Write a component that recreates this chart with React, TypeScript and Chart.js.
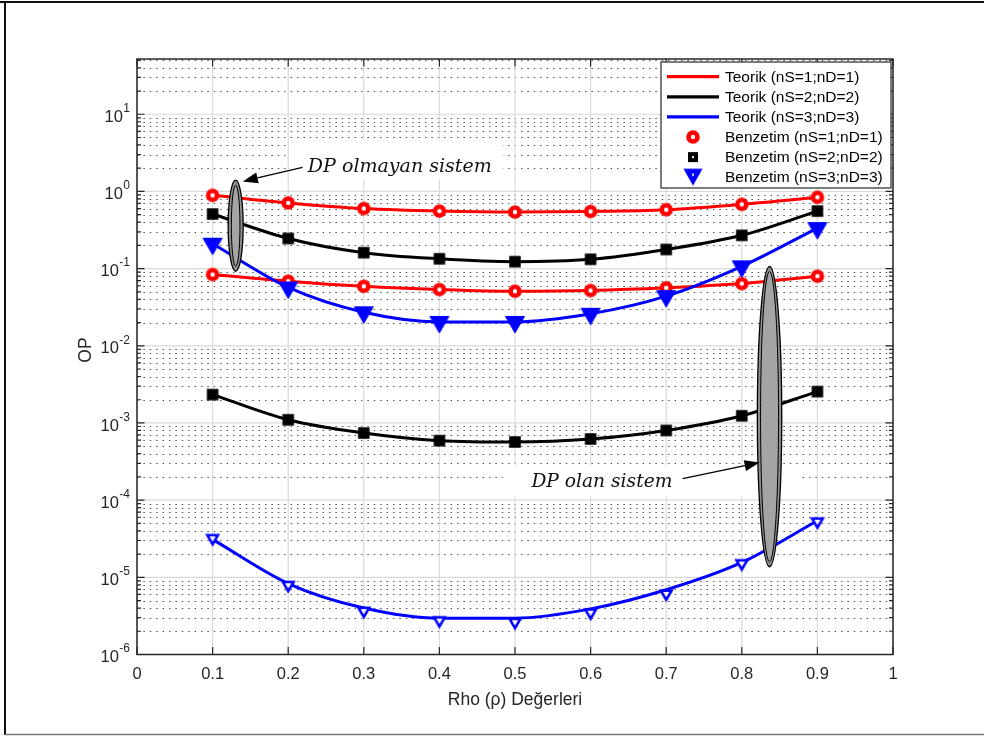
import { useEffect, useRef } from 'react';
import { Chart, registerables } from 'chart.js';

Chart.register(...registerables);

// Rho (ρ) values on the x axis
const rho = [0.1, 0.2, 0.3, 0.4, 0.5, 0.6, 0.7, 0.8, 0.9];

// DP olmayan sistem – theory curves
const thNoDp11 = [0.89, 0.71, 0.6, 0.556, 0.54, 0.55, 0.58, 0.68, 0.84];
const thNoDp22 = [0.51, 0.246, 0.161, 0.134, 0.123, 0.132, 0.177, 0.27, 0.556];
const thNoDp33 = [0.21, 0.057, 0.0272, 0.0204, 0.0204, 0.026, 0.044, 0.107, 0.335];
// DP olan sistem – theory curves
const thDp11 = [0.0838, 0.0687, 0.059, 0.0536, 0.0509, 0.052, 0.0563, 0.064, 0.0797];
const thDp22 = [0.00233, 0.0011, 0.00074, 0.00059, 0.000567, 0.00062, 0.0008, 0.00124, 0.00255];
const thDp33 = [3.1e-5, 8.3e-6, 4.0e-6, 2.96e-6, 2.96e-6, 3.9e-6, 6.9e-6, 1.56e-5, 5.4e-5];

// Simulation results
const simNoDp11 = [0.89, 0.71, 0.6, 0.556, 0.54, 0.55, 0.58, 0.68, 0.84];
const simNoDp22 = [0.51, 0.246, 0.161, 0.134, 0.123, 0.132, 0.177, 0.27, 0.556];
const simNoDp33 = [0.21, 0.057, 0.0272, 0.0204, 0.0204, 0.026, 0.044, 0.107, 0.335];
const simDp11 = [0.0838, 0.0687, 0.059, 0.0536, 0.0509, 0.052, 0.0563, 0.064, 0.0797];
const simDp22 = [0.00233, 0.0011, 0.00074, 0.00059, 0.000567, 0.00062, 0.0008, 0.00124, 0.00255];
const simDp33 = [3.2e-5, 7.9e-6, 3.65e-6, 2.75e-6, 2.62e-6, 3.47e-6, 6.1e-6, 1.51e-5, 5.25e-5];

// Axis ticks
const xTicks = [0, 0.1, 0.2, 0.3, 0.4, 0.5, 0.6, 0.7, 0.8, 0.9, 1];
const xTickLabels = ['0', '0.1', '0.2', '0.3', '0.4', '0.5', '0.6', '0.7', '0.8', '0.9', '1'];
const yDecades = [-6, -5, -4, -3, -2, -1, 0, 1];
const Y_MIN = 1e-6;
const Y_MAX = 52;

const legendLabels = [
  'Teorik (nS=1;nD=1)',
  'Teorik (nS=2;nD=2)',
  'Teorik (nS=3;nD=3)',
  'Benzetim (nS=1;nD=1)',
  'Benzetim (nS=2;nD=2)',
  'Benzetim (nS=3;nD=3)',
];

const RED = '#ff0000';
const BLACK = '#000000';
const BLUE = '#0000ff';
const AXIS = '#262626';
const SANS = '"Liberation Sans", Arial, Helvetica, sans-serif';
const SERIF_IT = '"DejaVu Serif", "Liberation Serif", serif';

// plot box in canvas pixels
const BOX = { left: 137, right: 893, top: 59, bottom: 654.5 };

// callout annotations, anchored in data units
const notes = [
  {
    text: 'DP olmayan sistem',
    at: [0.226, 1.78],
    width: 184,
    box: [0.2022, 4.73, 0.4838, 1.43],
    from: [0.219, 2.05],
    to: [0.14, 1.35],
    ell: { x: 0.1305, top: 1.4, bottom: 0.0925, rx: 7.5 },
  },
  {
    text: 'DP olan sistem',
    at: [0.5217, 1.49e-4],
    width: 141,
    box: [0.4838, 2.79e-4, 0.8764, 1.107e-4],
    from: [0.7217, 1.9e-4],
    to: [0.8235, 3.08e-4],
    ell: { x: 0.8367, top: 0.1065, bottom: 1.37e-5, rx: 12.2 },
  },
];

function mk(w: number, h: number, draw: (c: CanvasRenderingContext2D) => void) {
  const cv = document.createElement('canvas');
  cv.width = w;
  cv.height = h;
  const c = cv.getContext('2d')!;
  draw(c);
  return cv;
}

function buildMarkers() {
  const circle = mk(18, 18, (c) => {
    c.beginPath();
    c.arc(9, 9, 4.5, 0, Math.PI * 2);
    c.fillStyle = '#fff';
    c.fill();
    c.lineWidth = 4.6;
    c.strokeStyle = RED;
    c.stroke();
  });
  const square = mk(14, 14, (c) => {
    c.fillStyle = BLACK;
    c.fillRect(1.25, 1.25, 11.5, 11.5);
  });
  const triFilled = mk(22, 24, (c) => {
    c.beginPath();
    c.moveTo(1.5, 6.5);
    c.lineTo(20.5, 6.5);
    c.lineTo(11, 23);
    c.closePath();
    c.fillStyle = BLUE;
    c.fill();
    c.lineWidth = 1;
    c.strokeStyle = BLUE;
    c.stroke();
  });
  const triOpen = mk(20, 20, (c) => {
    c.beginPath();
    c.moveTo(10 - 5.3, 10 - 3.2);
    c.lineTo(10 + 5.3, 10 - 3.2);
    c.lineTo(10, 10 + 6);
    c.closePath();
    c.fillStyle = '#fff';
    c.fill();
    c.lineWidth = 2.6;
    c.lineJoin = 'miter';
    c.strokeStyle = BLUE;
    c.stroke();
  });
  const squareKey = mk(12, 12, (c) => {
    c.fillStyle = BLACK;
    c.fillRect(1, 1, 10, 10);
    c.fillStyle = '#fff';
    c.fillRect(5, 5, 2, 2);
  });
  const triKey = mk(22, 20, (c) => {
    c.beginPath();
    c.moveTo(1.5, 1.5);
    c.lineTo(20.5, 1.5);
    c.lineTo(11, 18.5);
    c.closePath();
    c.fillStyle = BLUE;
    c.fill();
    c.fillStyle = '#fff';
    c.fillRect(10, 6.5, 2, 2);
  });
  return { circle, square, triFilled, triOpen, squareKey, triKey };
}

const pts = (ys: number[]) => rho.map((x, i) => ({ x, y: ys[i] }));

function decorPlugin(mkr: ReturnType<typeof buildMarkers>) {
  return {
    id: 'decor',
    beforeDraw(chart: any) {
      const { ctx, width, height } = chart;
      ctx.save();
      ctx.fillStyle = '#fff';
      ctx.fillRect(0, 0, width, height);
      // page frame
      ctx.strokeStyle = '#111';
      ctx.lineWidth = 2;
      ctx.beginPath();
      ctx.moveTo(0, 2);
      ctx.lineTo(width, 2);
      ctx.moveTo(5, 2);
      ctx.lineTo(5, height - 1);
      ctx.stroke();
      ctx.strokeStyle = '#777';
      ctx.lineWidth = 1.5;
      ctx.beginPath();
      ctx.moveTo(5, height - 1.5);
      ctx.lineTo(width, height - 1.5);
      ctx.stroke();
      ctx.restore();
    },
    beforeDatasetsDraw(chart: any) {
      const { ctx, chartArea: a } = chart;
      const xs = chart.scales.x;
      const ys = chart.scales.y;
      ctx.save();
      // minor (dotted) grid
      ctx.strokeStyle = 'rgba(30,30,30,0.8)';
      ctx.lineWidth = 1.1;
      ctx.setLineDash([1.4, 5]);
      for (const d of yDecades) {
        for (let m = 2; m <= 9; m++) {
          const v = m * Math.pow(10, d);
          if (v >= Y_MAX) continue;
          const y = Math.round(ys.getPixelForValue(v)) + 0.5;
          ctx.beginPath();
          ctx.moveTo(a.left, y);
          ctx.lineTo(a.right, y);
          ctx.stroke();
        }
      }
      ctx.setLineDash([]);
      // major grid
      ctx.strokeStyle = '#dadada';
      ctx.lineWidth = 1.2;
      for (const v of xTicks) {
        const x = xs.getPixelForValue(v);
        ctx.beginPath();
        ctx.moveTo(x, a.top);
        ctx.lineTo(x, a.bottom);
        ctx.stroke();
      }
      for (const d of yDecades) {
        const y = ys.getPixelForValue(Math.pow(10, d));
        ctx.beginPath();
        ctx.moveTo(a.left, y);
        ctx.lineTo(a.right, y);
        ctx.stroke();
      }
      // white backgrounds behind callout texts
      ctx.fillStyle = '#fff';
      for (const n of notes) {
        const x0 = xs.getPixelForValue(n.box[0]);
        const y0 = ys.getPixelForValue(n.box[1]);
        const x1 = xs.getPixelForValue(n.box[2]);
        const y1 = ys.getPixelForValue(n.box[3]);
        ctx.fillRect(x0, y0, x1 - x0, y1 - y0);
      }
      ctx.restore();
    },
    afterDatasetsDraw(chart: any) {
      const { ctx, chartArea: a } = chart;
      const xs = chart.scales.x;
      const ys = chart.scales.y;
      ctx.save();

      // callouts: ellipses, arrows and texts
      for (const n of notes) {
        const cx = xs.getPixelForValue(n.ell.x);
        const t = ys.getPixelForValue(n.ell.top);
        const b = ys.getPixelForValue(n.ell.bottom);
        const cy = (t + b) / 2;
        const ry = (b - t) / 2;
        ctx.beginPath();
        ctx.ellipse(cx, cy, n.ell.rx, ry, 0, 0, Math.PI * 2);
        ctx.fillStyle = '#8e8e8e';
        ctx.fill();
        ctx.lineWidth = 1.3;
        ctx.strokeStyle = '#000';
        ctx.stroke();
        ctx.beginPath();
        ctx.ellipse(cx, cy, Math.max(1, n.ell.rx - 3.2), ry - 5, 0, 0, Math.PI * 2);
        ctx.fillStyle = '#a4a4a4';
        ctx.fill();
        ctx.lineWidth = 1;
        ctx.stroke();

        const fx = xs.getPixelForValue(n.from[0]);
        const fy = ys.getPixelForValue(n.from[1]);
        const tx = xs.getPixelForValue(n.to[0]);
        const ty = ys.getPixelForValue(n.to[1]);
        const ang = Math.atan2(ty - fy, tx - fx);
        const hl = 15;
        const hw = 5.5;
        const bx = tx - hl * Math.cos(ang);
        const by = ty - hl * Math.sin(ang);
        ctx.beginPath();
        ctx.moveTo(fx, fy);
        ctx.lineTo(bx, by);
        ctx.lineWidth = 1.3;
        ctx.strokeStyle = '#000';
        ctx.stroke();
        ctx.beginPath();
        ctx.moveTo(tx, ty);
        ctx.lineTo(bx + hw * Math.sin(ang), by - hw * Math.cos(ang));
        ctx.lineTo(bx - hw * Math.sin(ang), by + hw * Math.cos(ang));
        ctx.closePath();
        ctx.fillStyle = '#000';
        ctx.fill();

        ctx.font = `italic 18px ${SERIF_IT}`;
        const w18 = ctx.measureText(n.text).width;
        const size = (18 * n.width) / w18;
        ctx.font = `italic ${size.toFixed(2)}px ${SERIF_IT}`;
        ctx.fillStyle = '#111';
        ctx.textAlign = 'left';
        ctx.textBaseline = 'alphabetic';
        ctx.fillText(n.text, xs.getPixelForValue(n.at[0]), ys.getPixelForValue(n.at[1]));
      }

      // axes box and inward ticks
      ctx.strokeStyle = AXIS;
      ctx.lineWidth = 1.5;
      ctx.strokeRect(a.left, a.top, a.right - a.left, a.bottom - a.top);
      ctx.lineWidth = 1.2;
      ctx.beginPath();
      for (const v of xTicks) {
        const x = xs.getPixelForValue(v);
        ctx.moveTo(x, a.bottom);
        ctx.lineTo(x, a.bottom - 7.5);
        ctx.moveTo(x, a.top);
        ctx.lineTo(x, a.top + 7.5);
      }
      for (const d of yDecades) {
        for (let m = 1; m <= 9; m++) {
          const v = m * Math.pow(10, d);
          if (v >= Y_MAX) continue;
          const y = ys.getPixelForValue(v);
          const len = m === 1 ? 7.5 : 4;
          ctx.moveTo(a.left, y);
          ctx.lineTo(a.left + len, y);
          ctx.moveTo(a.right, y);
          ctx.lineTo(a.right - len, y);
        }
      }
      ctx.stroke();

      // tick labels
      ctx.fillStyle = AXIS;
      ctx.textBaseline = 'middle';
      ctx.textAlign = 'center';
      ctx.font = `16.5px ${SANS}`;
      xTicks.forEach((v, i) => {
        ctx.fillText(xTickLabels[i], xs.getPixelForValue(v), a.bottom + 19.5);
      });
      const rightEdge = a.left - 7;
      for (const d of yDecades) {
        const y = ys.getPixelForValue(Math.pow(10, d));
        ctx.font = `12px ${SANS}`;
        const exp = String(d);
        const ew = ctx.measureText(exp).width;
        ctx.textAlign = 'left';
        ctx.fillText(exp, rightEdge - ew, y - 5.5);
        ctx.font = `16.5px ${SANS}`;
        ctx.textAlign = 'right';
        ctx.fillText('10', rightEdge - ew - 0.5, y + 3);
      }

      // axis titles
      ctx.font = `17.5px ${SANS}`;
      ctx.textAlign = 'center';
      ctx.fillText('Rho (\u03c1) De\u011ferleri', (a.left + a.right) / 2, a.bottom + 45.5);
      ctx.save();
      ctx.translate(86, 350);
      ctx.rotate(-Math.PI / 2);
      ctx.fillText('OP', 0, 0);
      ctx.restore();

      // legend
      const L = { x0: 661, y0: 62, x1: 891, y1: 188 };
      ctx.fillStyle = '#fff';
      ctx.fillRect(L.x0, L.y0, L.x1 - L.x0, L.y1 - L.y0);
      ctx.strokeStyle = AXIS;
      ctx.lineWidth = 1.2;
      ctx.strokeRect(L.x0, L.y0, L.x1 - L.x0, L.y1 - L.y0);
      const lineCols = [RED, BLACK, BLUE];
      const keys = [mkr.circle, mkr.squareKey, mkr.triKey];
      ctx.font = `15.5px ${SANS}`;
      ctx.textAlign = 'left';
      ctx.textBaseline = 'middle';
      legendLabels.forEach((lab, i) => {
        const y = 76.7 + 20.1 * i;
        if (i < 3) {
          ctx.strokeStyle = lineCols[i];
          ctx.lineWidth = 3.2;
          ctx.beginPath();
          ctx.moveTo(667, y);
          ctx.lineTo(719, y);
          ctx.stroke();
        } else {
          const k = keys[i - 3];
          ctx.drawImage(k, 693 - k.width / 2, y - k.height / 2);
        }
        ctx.fillStyle = '#000';
        ctx.fillText(lab, 725, y + 1);
      });

      ctx.restore();
    },
  };
}

export default function App() {
  const ref = useRef<HTMLCanvasElement>(null);

  useEffect(() => {
    const canvas = ref.current;
    if (!canvas) return;
    const mkr = buildMarkers();

    const theory = (label: string, color: string, ys: number[]) => ({
      label,
      data: pts(ys),
      borderColor: color,
      backgroundColor: color,
      borderWidth: 3,
      pointRadius: 0,
      fill: false,
      cubicInterpolationMode: 'monotone' as const,
      order: 1,
    });
    const sim = (label: string, style: HTMLCanvasElement, ys: number[]) => ({
      label,
      data: pts(ys),
      showLine: false,
      pointStyle: style,
      pointRadius: 6,
      order: 0,
    });

    const chart = new Chart(canvas, {
      type: 'line',
      data: {
        datasets: [
          theory('Teorik (nS=1;nD=1)', RED, thNoDp11),
          theory('Teorik (nS=2;nD=2)', BLACK, thNoDp22),
          theory('Teorik (nS=3;nD=3)', BLUE, thNoDp33),
          theory('Teorik (nS=1;nD=1) DP', RED, thDp11),
          theory('Teorik (nS=2;nD=2) DP', BLACK, thDp22),
          theory('Teorik (nS=3;nD=3) DP', BLUE, thDp33),
          sim('Benzetim (nS=1;nD=1)', mkr.circle, simNoDp11),
          sim('Benzetim (nS=2;nD=2)', mkr.square, simNoDp22),
          sim('Benzetim (nS=3;nD=3)', mkr.triFilled, simNoDp33),
          sim('Benzetim (nS=1;nD=1) DP', mkr.circle, simDp11),
          sim('Benzetim (nS=2;nD=2) DP', mkr.square, simDp22),
          sim('Benzetim (nS=3;nD=3) DP', mkr.triOpen, simDp33),
        ] as any,
      },
      options: {
        responsive: false,
        animation: false,
        devicePixelRatio: 1,
        events: [],
        layout: {
          padding: {
            left: BOX.left,
            right: 984 - BOX.right,
            top: BOX.top,
            bottom: 736 - BOX.bottom,
          },
        },
        scales: {
          x: { type: 'linear', min: 0, max: 1, display: false },
          y: { type: 'logarithmic', min: Y_MIN, max: Y_MAX, display: false },
        },
        plugins: {
          legend: { display: false },
          tooltip: { enabled: false },
        },
      },
      plugins: [decorPlugin(mkr)],
    });

    return () => chart.destroy();
  }, []);

  return (
    <div style={{ position: 'fixed', left: 0, top: 0, width: 984, height: 736, background: '#fff' }}>
      <canvas ref={ref} width={984} height={736} style={{ display: 'block', width: 984, height: 736 }} />
    </div>
  );
}
